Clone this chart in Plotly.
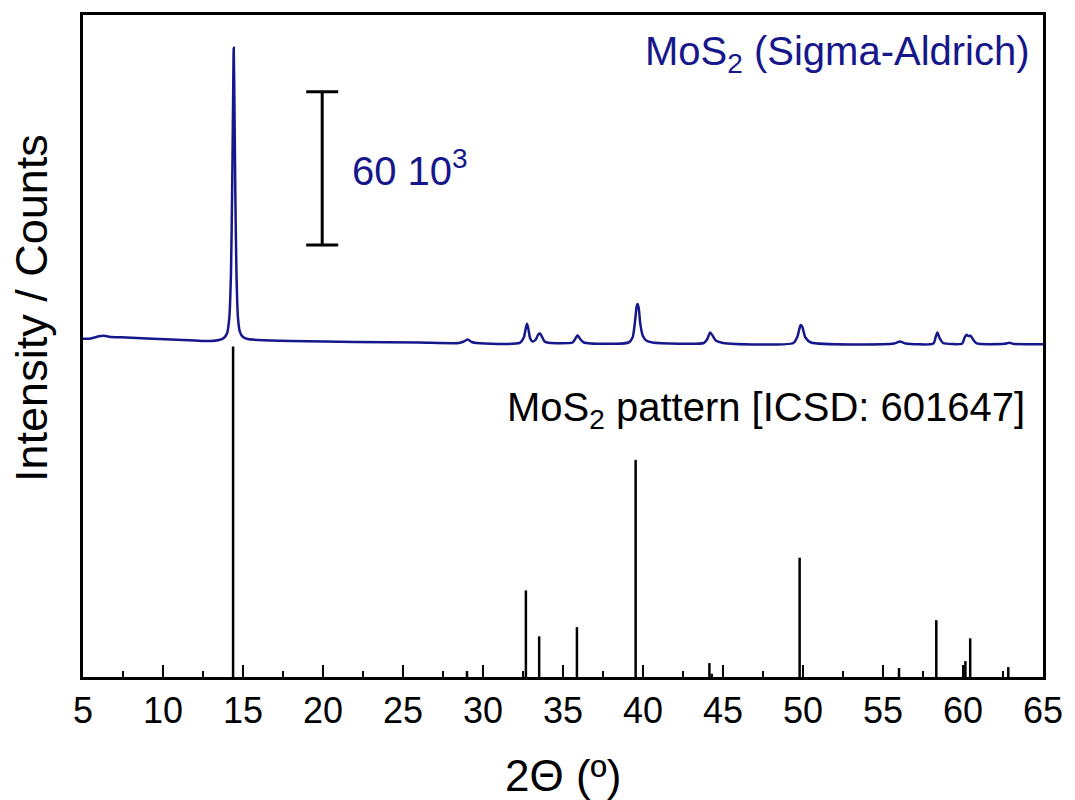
import plotly.graph_objects as go

# ---- measured XRD pattern (MoS2, Sigma-Aldrich) ----
xrd_2theta = [5.0, 5.5, 6.0, 6.3, 6.8, 7.7, 9.0, 10.5, 12.0, 13.0, 13.5, 13.8, 14.0,
              14.15, 14.25, 14.32, 14.38, 14.42, 14.47, 14.52, 14.59, 14.68, 14.8, 15.0,
              15.3, 16.0, 18.0, 22.0, 26.0, 28.5, 28.8, 29.05, 29.3, 29.6, 32.3, 32.55,
              32.67, 32.75, 32.83, 32.95, 33.1, 33.3, 33.45, 33.56, 33.68, 33.85, 34.1,
              35.6, 35.78, 35.91, 36.05, 36.3, 39.1, 39.35, 39.5, 39.6, 39.66, 39.73,
              39.83, 39.98, 40.2, 40.6, 43.8, 44.0, 44.2, 44.35, 44.55, 45.0, 49.4,
              49.65, 49.85, 49.95, 50.15, 50.5, 55.7, 56.05, 56.4, 58.15, 58.3, 58.4,
              58.55, 58.75, 59.95, 60.1, 60.22, 60.35, 60.48, 60.65, 60.85, 62.6, 62.9,
              63.2, 65.0]
xrd_counts = [6310, 6430, 7290, 7480, 7010, 6820, 6430, 6040, 5650, 5460, 5850, 6630, 8380,
              15000, 32530, 63690, 98740, 120160, 94850, 63690, 32530, 15000, 9160, 7010,
              6240, 5850, 5460, 5070, 4870, 4680, 5260, 6040, 5070, 4680, 4680, 6820,
              10330, 12160, 10330, 6430, 5260, 6040, 7990, 8380, 7210, 5260, 4760,
              4870, 6430, 7720, 6430, 4870, 4870, 6820, 13050, 18890, 19950, 18510,
              12270, 7600, 5650, 4870, 4680, 6040, 8770, 7560, 5650, 4680, 4680,
              7210, 11690, 11100, 6820, 4870, 4490, 5260, 4490, 4490, 7210, 8770,
              6430, 4680, 4490, 6820, 7870, 7400, 7480, 5850, 4490, 4370, 4760,
              4290, 4210]

# ---- reference pattern [ICSD: 601647] (relative intensity, %) ----
ref_2theta = [14.38, 29.0, 32.68, 33.51, 35.87, 39.54, 44.15, 44.3, 49.79, 56.0, 58.33,
              60.03, 60.15, 60.45, 62.83]
ref_rel = [100, 1.8, 26.2, 12.3, 15.1, 65.7, 4.2, 1.0, 36.1, 2.7, 17.2,
           3.6, 4.8, 11.7, 3.0]

scale_bar_counts = 60000
x_ticks = [5, 10, 15, 20, 25, 30, 35, 40, 45, 50, 55, 60, 65]

# display constants
curve_offset = 126000      # vertical offset of measured pattern
pattern_scale = 129300     # display height of a 100 % reference line
y_max = 259000
blue = "#17178c"

fig = go.Figure()

fig.add_trace(go.Scatter(
    x=xrd_2theta, y=[c + curve_offset for c in xrd_counts],
    mode="lines", line=dict(color=blue, width=2.5, shape="spline", smoothing=0.6),
    hoverinfo="skip", showlegend=False))

sx, sy = [], []
for t, r in zip(ref_2theta, ref_rel):
    sx += [t, t, None]
    sy += [0, r / 100 * pattern_scale, None]
fig.add_trace(go.Scatter(x=sx, y=sy, mode="lines",
                         line=dict(color="black", width=2.5),
                         hoverinfo="skip", showlegend=False))

# scale bar
bar_x = 19.95
bar_y0 = 169000
bar_y1 = bar_y0 + scale_bar_counts
fig.add_shape(type="line", x0=bar_x, x1=bar_x, y0=bar_y0, y1=bar_y1,
              line=dict(color="black", width=3))
for yy in (bar_y0, bar_y1):
    fig.add_shape(type="line", x0=bar_x - 1.0, x1=bar_x + 1.0, y0=yy, y1=yy,
                  line=dict(color="black", width=3))

font_main = "Arial, Liberation Sans, sans-serif"
fig.add_annotation(x=bar_x + 1.75, y=(bar_y0 + bar_y1) / 2, xref="x", yref="y",
                   text="60 10<sup>3</sup>", showarrow=False, xanchor="left",
                   yanchor="middle", font=dict(family=font_main, size=40, color=blue))
fig.add_annotation(x=1.0, y=1.0, xref="paper", yref="paper", xshift=-11, yshift=-12,
                   text="MoS<sub>2</sub> (Sigma-Aldrich)", showarrow=False,
                   xanchor="right", yanchor="top",
                   font=dict(family=font_main, size=40, color=blue))
fig.add_annotation(x=1.0, y=0.404, xref="paper", yref="paper", xshift=-16,
                   text="MoS<sub>2</sub> pattern [ICSD: 601647]", showarrow=False,
                   xanchor="right", yanchor="middle",
                   font=dict(family=font_main, size=40, color="black"))
fig.add_annotation(x=-0.0538, y=0.558, xref="paper", yref="paper",
                   text="Intensity / Counts", textangle=-90, showarrow=False,
                   xanchor="center", yanchor="middle",
                   font=dict(family=font_main, size=45, color="black"))
fig.add_annotation(x=0.5, y=-0.149, xref="paper", yref="paper",
                   text="2Θ (º)", showarrow=False, xanchor="center", yanchor="middle",
                   font=dict(family=font_main, size=44, color="black"))

fig.update_xaxes(range=[5, 65], tickvals=x_ticks, ticktext=[str(v) for v in x_ticks],
                 ticks="inside", ticklen=12, tickwidth=2, tickcolor="black",
                 minor=dict(dtick=2.5, ticks="inside", ticklen=6, tickwidth=2,
                            tickcolor="black", tick0=0),
                 showline=True, linecolor="black", linewidth=2.5, mirror=True,
                 showgrid=False, zeroline=False,
                 tickfont=dict(family="Liberation Sans Narrow, Arial Narrow, Arial, sans-serif",
                               size=36, color="black"))
fig.update_yaxes(range=[0, y_max], showticklabels=False, ticks="",
                 showline=True, linecolor="black", linewidth=2.5, mirror=True,
                 showgrid=False, zeroline=False)

fig.update_layout(width=1075, height=800, plot_bgcolor="white", paper_bgcolor="white",
                  margin=dict(l=83, r=28, t=12, b=123))

fig.write_html("out.html", config={"displayModeBar": False},
               post_script="document.body.style.margin='0';"
                           "document.body.style.overflow='hidden';")
